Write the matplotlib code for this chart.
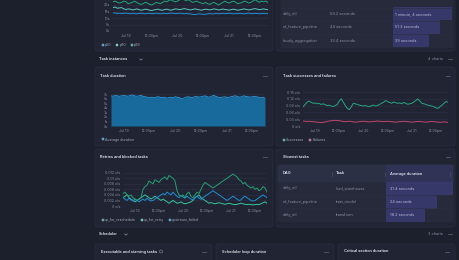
import numpy as np
import matplotlib.pyplot as plt
from matplotlib.patches import FancyBboxPatch, Ellipse
from matplotlib.lines import Line2D
from matplotlib.transforms import Affine2D

plt.rcParams['font.family'] = ['Inter', 'DejaVu Sans']

# ---- data ----
x_ticks = [6, 18, 30, 42, 54, 66]
x_labels = ['Jul 19', '12:00pm', 'Jul 20', '12:00pm', 'Jul 21', '12:00pm']

# DAG run duration percentiles (seconds)
p99 = [22.5, 23, 22, 21.5, 22, 23, 22.5, 21, 21.5, 22, 23, 22, 21, 20.5, 21, 22, 21.5, 20.5,
       20, 21, 22, 21.5, 21, 22, 23, 22.5, 23.5, 24, 23, 22.5, 23, 24, 25, 24, 23.5, 24, 23,
       22, 22.5, 23, 22, 21.5, 21, 22, 21, 20.5, 21.5, 22, 21, 20, 21, 22, 23, 22, 21.5, 22.5,
       23, 22, 21, 21.5, 22, 23, 22.5, 21.5, 22, 23, 24, 23, 22, 23, 22.5, 23, 22]
p90 = [18, 18.5, 17.5, 17.8, 18, 17, 16.5, 17, 16.8, 16.2, 16.5, 17, 16.5, 16, 16.3, 16.8, 16.5,
       16, 15.8, 16.2, 16.5, 16.8, 16.2, 16, 16.5, 16.8, 16.3, 16, 16.5, 17, 16.8, 16.4, 16.8,
       17.2, 16.9, 16.5, 16.2, 16.6, 17, 16.7, 16.3, 16, 16.4, 16.8, 16.5, 16.2, 16.6, 17, 16.6,
       16.2, 16.5, 16.9, 16.6, 16.3, 16.1, 16.5, 16.8, 16.4, 16, 16.3, 16.7, 17, 16.6, 16.2, 16.5,
       16.9, 17.2, 16.8, 16.4, 16.7, 17, 16.6, 16.4]
p50 = [14, 13.8, 13.5, 13.7, 13.4, 13.6, 13.8, 13.5, 13.3, 13.6, 13.4, 13.2, 13.5, 13.7, 13.4,
       13.2, 13.5, 13.6, 13.3, 13.4, 13.7, 13.5, 13.2, 13.4, 13.6, 13.3, 13.5, 13.8, 13.6, 13.4,
       13.5, 13.7, 13.4, 13.2, 13.5, 13.3, 13.1, 12.8, 12.6, 12.9, 13.2, 13, 12.7, 12.9, 13.2,
       13.4, 13.1, 13.3, 13.5, 13.2, 13.4, 13.6, 13.3, 13.5, 13.7, 13.4, 13.2, 13.5, 13.3, 13.6,
       13.4, 13.2, 13.5, 13.7, 13.4, 13.3, 13.6, 13.5, 13.2, 13.4, 13.6, 13.3, 13.4]

# task instances
avg_duration = [6.6, 6.5, 6.7, 6.6, 6.5, 6.6, 6.7, 6.6, 6.5, 6.7, 6.8, 6.6, 6.5, 6.6, 6.7, 6.5,
                6.4, 6.3, 6.2, 6.3, 6.2, 6.3, 6.4, 6.3, 6.2, 6.3, 6.1, 6.2, 6.3, 6.2, 6.4, 6.3,
                6.2, 6.0, 6.1, 6.3, 6.4, 6.3, 6.2, 6.4, 6.5, 6.3, 6.4, 6.5, 6.6, 6.4, 6.3, 6.5,
                6.7, 6.5, 6.3, 6.2, 6.3, 6.4, 6.3, 6.2, 6.4, 6.5, 6.6, 6.5, 6.3, 6.4, 6.6, 6.5,
                6.4, 6.3, 6.4, 6.5, 6.4, 6.3, 6.2, 6.3, 6.1]
successes = [0.085, 0.095, 0.105, 0.11, 0.105, 0.1, 0.102, 0.098, 0.1, 0.095, 0.098, 0.094, 0.09,
             0.092, 0.088, 0.086, 0.09, 0.095, 0.11, 0.12, 0.105, 0.09, 0.078, 0.072, 0.085, 0.1,
             0.098, 0.095, 0.092, 0.09, 0.088, 0.09, 0.087, 0.085, 0.09, 0.092, 0.088, 0.09, 0.095,
             0.1, 0.105, 0.112, 0.108, 0.104, 0.1, 0.106, 0.103, 0.1, 0.102, 0.098, 0.104, 0.1,
             0.096, 0.098, 0.1, 0.106, 0.112, 0.12, 0.11, 0.1, 0.098, 0.095, 0.092, 0.09, 0.088,
             0.085, 0.08, 0.078, 0.085, 0.092, 0.1, 0.108, 0.105]
failures = [0.022, 0.021, 0.02, 0.021, 0.02, 0.019, 0.018, 0.017, 0.016, 0.015, 0.016, 0.018, 0.02,
            0.022, 0.023, 0.024, 0.025, 0.024, 0.023, 0.022, 0.02, 0.019, 0.02, 0.021, 0.02, 0.018,
            0.017, 0.018, 0.019, 0.02, 0.021, 0.02, 0.019, 0.018, 0.019, 0.02, 0.021, 0.022, 0.021,
            0.02, 0.019, 0.02, 0.021, 0.02, 0.019, 0.018, 0.017, 0.018, 0.019, 0.02, 0.021, 0.02,
            0.019, 0.018, 0.017, 0.018, 0.019, 0.02, 0.02, 0.019, 0.018, 0.017, 0.018, 0.019, 0.02,
            0.019, 0.018, 0.017, 0.016, 0.017, 0.018, 0.017, 0.016]
up_for_reschedule = [0.0045, 0.005, 0.004, 0.0035, 0.004, 0.003, 0.0025, 0.002, 0.0025, 0.003,
                     0.006, 0.007, 0.0075, 0.009, 0.0085, 0.008, 0.0095, 0.009, 0.0085, 0.0095,
                     0.01, 0.0105, 0.0095, 0.011, 0.0105, 0.01, 0.009, 0.0055, 0.004, 0.0035,
                     0.004, 0.003, 0.0045, 0.005, 0.0035, 0.003, 0.004, 0.005, 0.0045, 0.006,
                     0.0075, 0.0085, 0.008, 0.0075, 0.007, 0.0065, 0.007, 0.0075, 0.008, 0.0085,
                     0.009, 0.0095, 0.01, 0.0105, 0.011, 0.0115, 0.011, 0.0105, 0.0095, 0.009,
                     0.008, 0.0085, 0.0075, 0.007, 0.0065, 0.007, 0.006, 0.0065, 0.0055, 0.006,
                     0.007, 0.0065, 0.005]
up_for_retry = [0.003, 0.0035, 0.004, 0.003, 0.0025, 0.002, 0.0015, 0.002, 0.0025, 0.003, 0.0035,
                0.004, 0.0035, 0.003, 0.0025, 0.003, 0.0035, 0.003, 0.0025, 0.002, 0.0025,
                0.002, 0.0015, 0.001, 0.0015, 0.002, 0.0015, 0.001, 0.0012, 0.0015, 0.001,
                0.0008, 0.001, 0.0012, 0.0015, 0.002, 0.003, 0.0035, 0.004, 0.003, 0.0025,
                0.002, 0.0015, 0.001, 0.0012, 0.001, 0.0008, 0.001, 0.0012, 0.001, 0.0008,
                0.0006, 0.0008, 0.001, 0.0008, 0.0006, 0.0005, 0.0006, 0.0008, 0.001, 0.0008,
                0.0006, 0.0005, 0.0006, 0.0005, 0.0004, 0.0005, 0.0006, 0.0005, 0.0008, 0.0012,
                0.0015, 0.001]
upstream_failed = [0.003, 0.0025, 0.002, 0.0028, 0.0022, 0.0018, 0.0025, 0.002, 0.0015, 0.002,
                   0.0025, 0.002, 0.0028, 0.0022, 0.0018, 0.002, 0.0025, 0.003, 0.0035, 0.004,
                   0.0045, 0.004, 0.005, 0.0045, 0.004, 0.005, 0.0042, 0.0035, 0.003, 0.0038,
                   0.0032, 0.0028, 0.0035, 0.003, 0.0025, 0.0022, 0.003, 0.0035, 0.0028, 0.0024,
                   0.003, 0.0035, 0.004, 0.0045, 0.005, 0.0055, 0.005, 0.0045, 0.004, 0.0035,
                   0.003, 0.0025, 0.002, 0.0025, 0.003, 0.0035, 0.003, 0.0025, 0.002, 0.0022,
                   0.003, 0.0035, 0.003, 0.0025, 0.002, 0.0018, 0.002, 0.0025, 0.003, 0.0035,
                   0.004, 0.0035, 0.003]

# tables
dag_names = ['daily_etl', 'ml_feature_pipeline', 'hourly_aggregation']
dag_median_text = ['59.2 seconds', '44 seconds', '33.4 seconds']
dag_avg = [64, 51.3, 39]
dag_avg_text = ['1 minute, 4 seconds', '51.3 seconds', '39 seconds']

slow_dags = ['daily_etl', 'ml_feature_pipeline', 'daily_etl']
slow_tasks = ['load_warehouse', 'train_model', 'transform']
slow_avg = [31.4, 24, 18.2]
slow_avg_text = ['31.4 seconds', '24 seconds', '18.2 seconds']

# ---- style ----
BG = '#1c1f2c'
PANEL = '#212433'
BORDER = '#2b2f40'
TABLE = '#262a3b'
HEAD = '#2c3044'
PURPLE = '#37386a'
GRID = '#2e3245'
TXT = '#e4e6ee'
SUB = '#8a8fa2'
LEG = '#a2a7b8'
FS = 2.8

W, H = 460, 260
fig = plt.figure(figsize=(W / 100, H / 100), dpi=100)
fig.patch.set_facecolor(BG)
# pixel coords, origin at top-left
PX = Affine2D().scale(1, -1).translate(0, H).scale(1 / fig.dpi) + fig.dpi_scale_trans


def box(x0, y0, x1, y1, fc, ec=None, lw=0.5, r=2.5, z=-3):
    fig.add_artist(FancyBboxPatch((x0, y0), x1 - x0, y1 - y0,
                                  boxstyle=f'round,pad=0,rounding_size={r}',
                                  fc=fc, ec=ec or fc, lw=lw, transform=PX, zorder=z))


def text(x, y, s, color=TXT, size=FS, weight='normal', ha='left'):
    fig.text(x, y, s, color=color, fontsize=size, fontweight=weight, ha=ha, va='center',
             transform=PX, zorder=5)


def chevron(x, y, c=SUB):
    fig.add_artist(Line2D([x - 1.3, x, x + 1.3], [y - 0.6, y + 0.7, y - 0.6], color=c,
                          lw=0.5, transform=PX))


def menu(x, y):
    fig.add_artist(Line2D([x - 2, x + 2], [y, y], color='#565b6e', lw=0.6, transform=PX))


def chart(x0, y0, x1, y1, ymax, yticks, ylabels):
    ax = fig.add_axes([x0 / W, 1 - y1 / H, (x1 - x0) / W, (y1 - y0) / H])
    ax.set_facecolor('none')
    for s in ax.spines.values():
        s.set_visible(False)
    ax.tick_params(length=0, labelsize=FS * 0.92, colors=SUB, pad=2.2)
    ax.grid(axis='y', color=GRID, lw=0.4)
    ax.set_axisbelow(True)
    ax.set_xlim(0, 72)
    ax.set_ylim(0, ymax)
    ax.set_xticks(x_ticks, x_labels)
    ax.set_yticks(yticks, ylabels)
    return ax


def legend(ax, items, x, y):
    handles = [Line2D([], [], marker='s', ls='', ms=1.8, mfc=c, mec='#c9d3e0', mew=0.25)
               for c, _ in items]
    ax.legend(handles, [l for _, l in items], loc='center left', bbox_to_anchor=(x / W, 1 - y / H),
              bbox_transform=fig.transFigure, ncol=len(items), frameon=False, fontsize=FS * 0.92,
              labelcolor=LEG, handlelength=0.6, handletextpad=0.3, columnspacing=1.3,
              borderpad=0, borderaxespad=0)


def tx(series):
    return np.linspace(0, 72, len(series))


# ---- panels ----
box(95, -10, 273, 51, PANEL, BORDER)
box(276, -10, 455, 51, PANEL, BORDER)
box(95, 67, 273, 146, PANEL, BORDER)
box(276, 67, 455, 146, PANEL, BORDER)
box(95, 149, 273, 227, PANEL, BORDER)
box(276, 149, 455, 227, PANEL, BORDER)
box(95, 244, 212, 270, PANEL, BORDER)
box(216, 244, 334, 270, PANEL, BORDER)
box(338, 244, 455, 270, PANEL, BORDER)

# ---- DAG duration percentiles (top left, cut off) ----
ax = chart(113, -1.5, 268, 31, 25, [0, 5, 10, 15, 20], ['0s', '5s', '10s', '15s', '20s'])
ax.plot(tx(p99), p99, color='#22a67a', lw=0.7)
ax.plot(tx(p90), p90, color='#5cc9c4', lw=0.7)
ax.plot(tx(p50), p50, color='#1f8fd6', lw=0.7)
legend(ax, [('#1f8fd6', 'p50'), ('#5cc9c4', 'p90'), ('#22a67a', 'p99')], 102, 45)

# ---- DAG table (top right) ----
box(281, -10, 453, 47, TABLE, r=1.5, z=-2)
bx = fig.add_axes([393 / W, 1 - 47 / H, (452 - 393) / W, 40 / H], zorder=-1)
bx.barh(range(len(dag_avg)), dag_avg, height=1.0, color=PURPLE)
bx.set_xlim(0, max(dag_avg))
bx.set_ylim(len(dag_avg) - 0.5, -0.5)
bx.axis('off')
for i, (n, m, a) in enumerate(zip(dag_names, dag_median_text, dag_avg_text)):
    yy = 14 + i * 13.3
    text(283, yy, n, SUB)
    text(330, yy, m, SUB)
    text(395, yy, a, '#b9bbd8')
    fig.add_artist(Line2D([281, 453], [yy + 6.6, yy + 6.6], color=BORDER, lw=0.4, transform=PX))
fig.add_artist(Line2D([281, 453], [7.5, 7.5], color=BORDER, lw=0.4, transform=PX))

# ---- section: task instances ----
text(99, 59, 'Task instances', TXT, FS, 'semibold')
chevron(141, 59.5)
text(443, 59, '4 charts', SUB, ha='right')
menu(450, 59)

# ---- task duration ----
text(100, 76, 'Task duration', TXT, FS, 'semibold')
menu(265, 76)
ax = chart(111, 94, 265, 126, 7, range(8), [f'{i}s' for i in range(8)])
ax.fill_between(tx(avg_duration), avg_duration, color='#176a9b', lw=0)
ax.plot(tx(avg_duration), avg_duration, color='#2a9be0', lw=0.6)
legend(ax, [('#1f8fd6', 'Average duration')], 102, 139.5)

# ---- successes and failures ----
text(283, 76, 'Task successes and failures', TXT, FS, 'semibold')
menu(448, 76)
sticks = [0, 0.03, 0.06, 0.09, 0.12, 0.15]
ax = chart(303, 92, 448, 126, 0.15, sticks, ['0 o/s'] + [f'{v:.2f} o/s' for v in sticks[1:]])
ax.plot(tx(successes), successes, color='#27a67f', lw=0.7)
ax.plot(tx(failures), failures, color='#c0486d', lw=0.7)
legend(ax, [('#27a67f', 'Successes'), ('#c0486d', 'Failures')], 283, 140)

# ---- retries and blocked tasks ----
text(100, 157, 'Retries and blocked tasks', TXT, FS, 'semibold')
menu(265, 157)
rticks = [0, 0.002, 0.004, 0.006, 0.008, 0.01, 0.012]
rlabels = ['0 o/s', '0.002 o/s', '0.004 o/s', '0.006 o/s', '0.008 o/s', '0.01 o/s', '0.012 o/s']
ax = chart(123, 172.7, 267, 206, 0.012, rticks, rlabels)
ax.plot(tx(up_for_retry), up_for_retry, color='#35c79f', lw=0.7)
ax.plot(tx(upstream_failed), upstream_failed, color='#1f8fd6', lw=0.7)
ax.plot(tx(up_for_reschedule), up_for_reschedule, color='#26a074', lw=0.7)
legend(ax, [('#26a074', 'up_for_reschedule'), ('#35c79f', 'up_for_retry'),
            ('#1f8fd6', 'upstream_failed')], 102, 220)

# ---- slowest tasks table ----
text(283, 157, 'Slowest tasks', TXT, FS, 'semibold')
menu(448, 157)
box(278, 165, 453, 222, TABLE, r=1.5, z=-2)
box(278, 165, 453, 182, HEAD, r=1.5, z=-2)
box(386, 165, 453, 182, '#303256', r=0.1, z=-2)
sx = fig.add_axes([386 / W, 1 - 222 / H, 67 / W, 40 / H], zorder=-1)
sx.barh(range(len(slow_avg)), slow_avg, height=1.0, color=PURPLE)
sx.set_xlim(0, max(slow_avg))
sx.set_ylim(len(slow_avg) - 0.5, -0.5)
sx.axis('off')
text(283, 173.5, 'DAG', TXT, FS, 'semibold')
text(336, 173.5, 'Task', TXT, FS, 'semibold')
text(390, 173.5, 'Average duration', TXT, FS, 'semibold')
for xs in (332, 385, 450):
    fig.add_artist(Line2D([xs, xs], [171.5, 175.5], color='#4a4f63', lw=0.5, transform=PX))
for i, (d, t, a) in enumerate(zip(slow_dags, slow_tasks, slow_avg_text)):
    yy = 188.5 + i * 13.3
    text(283, yy, d, SUB)
    text(336, yy, t, SUB)
    text(390, yy, a, '#b9bbd8')
    if i < 2:
        fig.add_artist(Line2D([278, 453], [yy + 6.6, yy + 6.6], color=BORDER, lw=0.4,
                              transform=PX))

# ---- section: scheduler ----
text(99, 234, 'Scheduler', TXT, FS, 'semibold')
chevron(126, 234.5)
text(443, 234, '3 charts', SUB, ha='right')
menu(450, 234)

text(101, 251.5, 'Executable and starving tasks', TXT, FS, 'semibold')
fig.add_artist(Ellipse((161, 251.5), 3, 3, fc='none', ec=SUB, lw=0.4, transform=PX))
menu(204, 251.5)
text(222, 251.5, 'Scheduler loop duration', TXT, FS, 'semibold')
menu(326, 251.5)
text(344, 251.5, 'Critical section duration', TXT, FS, 'semibold')
menu(447, 251.5)

fig.savefig('out.png', dpi=100, facecolor=BG)
